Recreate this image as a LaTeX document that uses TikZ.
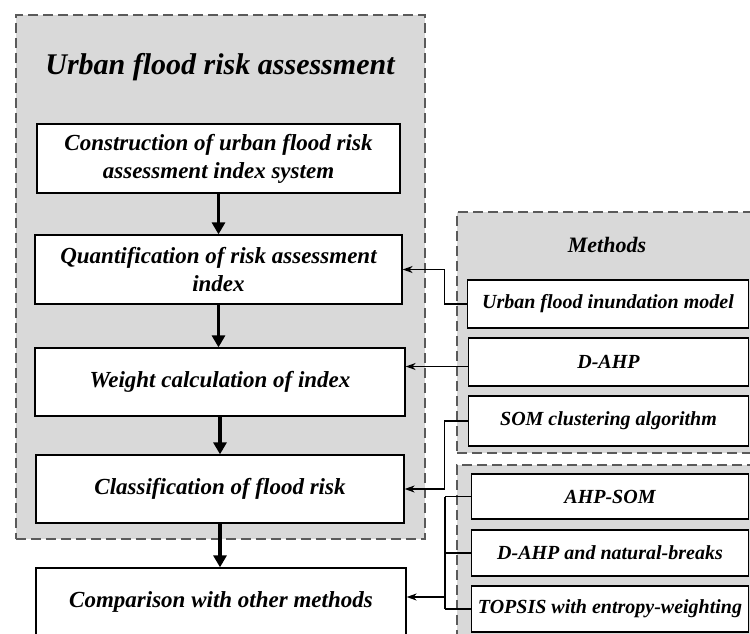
\documentclass[tikz,border=0pt]{standalone}
\usepackage{fontspec}
\setmainfont{Liberation Serif}
\usetikzlibrary{arrows.meta}
\definecolor{panel}{HTML}{D9D9D9}
\definecolor{dashc}{HTML}{5A5A5A}
\tikzset{
  panelbox/.style={fill=panel, draw=dashc, line width=1.5pt, dash pattern=on 10pt off 5pt, inner sep=0pt},
  mainbox/.style={draw=black, fill=white, line width=1.3pt, align=center,
    font=\fontsize{23}{28}\selectfont\bfseries\itshape, inner sep=0pt},
  methbox/.style={draw=black, fill=white, line width=1.3pt, align=center,
    font=\fontsize{20}{24}\selectfont\bfseries\itshape, inner sep=0pt},
  paneltitle/.style={font=\fontsize{22}{26}\selectfont\bfseries\itshape, inner sep=0pt},
  flow/.style={line width=3.2pt, -{Triangle[length=12pt,width=13pt]}},
  link/.style={line width=1.3pt},
  linkarrow/.style={line width=1.3pt, -{Stealth[length=10pt,width=7pt]}},
}
\begin{document}
\begin{tikzpicture}[x=1pt,y=-1pt]
\useasboundingbox (0,0) rectangle (750,633);
\clip (0,0) rectangle (750,633);
% panels
\node[panelbox, minimum width=409pt, minimum height=524pt, anchor=north west] (outer) at (15,14) {};
\node[panelbox, minimum width=320pt, minimum height=241pt, anchor=north west] (mpanel) at (456,211) {};
\node[panelbox, minimum width=320pt, minimum height=200pt, anchor=north west] (cpanel) at (456,464) {};
% titles
\node[font=\fontsize{30}{36}\selectfont\bfseries\itshape, inner sep=0pt] (title) at (220,67) {Urban flood risk assessment};
\node[paneltitle] (mtitle) at (607,245) {Methods};
% main flow boxes
\node[mainbox, minimum width=363pt, minimum height=69pt] (b1) at (218.5,158.5) {Construction of urban flood risk\\assessment index system};
\node[mainbox, minimum width=367pt, minimum height=69pt] (b2) at (218.5,269.5) {Quantification of risk assessment\\index};
\node[mainbox, minimum width=370pt, minimum height=68pt] (b3) at (220,382) {Weight calculation of index};
\node[mainbox, minimum width=368pt, minimum height=68pt] (b4) at (220,489) {Classification of flood risk};
\node[mainbox, minimum width=370pt, minimum height=68pt] (b5) at (221,602) {Comparison with other methods};
% method boxes
\node[methbox, minimum width=281pt, minimum height=48pt] (m1) at (608,304) {Urban flood inundation model};
\node[methbox, minimum width=280pt, minimum height=48pt] (m2) at (608.5,362) {D-AHP};
\node[methbox, minimum width=280pt, minimum height=50pt] (m3) at (608.5,421) {SOM clustering algorithm};
% comparison boxes
\node[methbox, minimum width=277pt, minimum height=45pt] (c1) at (610,496.5) {AHP-SOM};
\node[methbox, minimum width=277pt, minimum height=46pt] (c2) at (610,553) {D-AHP and natural-breaks};
\node[methbox, minimum width=277pt, minimum height=46pt] (c3) at (610,609) {TOPSIS with entropy-weighting};
% main flow arrows
\draw[flow] (b1.south) -- (b1.south |- b2.north);
\draw[flow] (b2.south) -- (b2.south |- b3.north);
\draw[flow] (b3.south) -- (b3.south |- b4.north);
\draw[flow] (b4.south) -- (b4.south |- b5.north);
% method connectors
\draw[linkarrow] (m1.west) -- ++(-22.5,0) |- (b2.east);
\coordinate (m2out) at ([yshift=-4.5pt]m2.west);
\draw[linkarrow] (m2out) -- (m2out -| b3.east);
\draw[linkarrow] (m3.west) -- ++(-23.5,0) |- (b4.east);
% comparison bus
\draw[link] (c1.west) -- ++(-26,0) coordinate (bustop);
\draw[link] (c2.west) -- (c2.west -| bustop);
\draw[link] (c3.west) -- (c3.west -| bustop);
\draw[link] (bustop) -- (bustop |- c3.west);
\coordinate (b5in) at ([yshift=5pt]b5.east);
\draw[linkarrow] (b5in -| bustop) -- (b5in);
\end{tikzpicture}
\end{document}
